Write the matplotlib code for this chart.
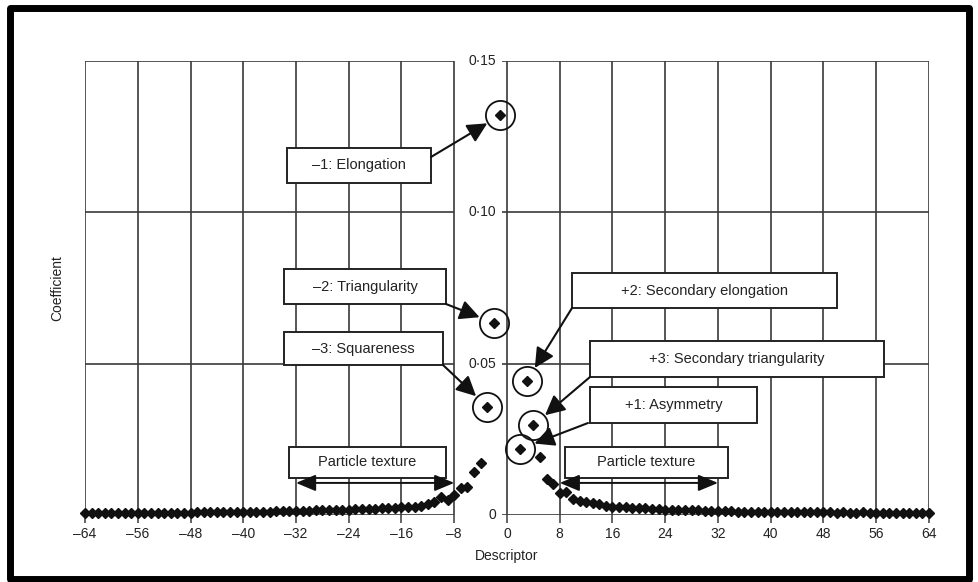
import matplotlib
matplotlib.use("Agg")
import matplotlib.pyplot as plt
from matplotlib.patches import Rectangle

plt.rcParams['font.family'] = ['Liberation Sans', 'DejaVu Sans']

# ---------------- data ----------------
left_desc = list(range(-64, 0))
left_coef = [
    0.0006, 0.0006, 0.0006, 0.0006, 0.0007, 0.0006, 0.0007, 0.0007,   # -64..-57
    0.0007, 0.0007, 0.0007, 0.0008, 0.0007, 0.0008, 0.0008, 0.0008,   # -56..-49
    0.0008, 0.0009, 0.0009, 0.0009, 0.0009, 0.0010, 0.0009, 0.0010,   # -48..-41
    0.0010, 0.0010, 0.0011, 0.0011, 0.0011, 0.0012, 0.0012, 0.0013,   # -40..-33
    0.0013, 0.0014, 0.0014, 0.0015, 0.0015, 0.0016, 0.0017, 0.0017,   # -32..-25
    0.0018, 0.0019, 0.0019, 0.0020, 0.0021, 0.0022, 0.0023, 0.0024,   # -24..-17
    0.0025, 0.0026, 0.0028, 0.0030, 0.0036, 0.0044, 0.0058, 0.0050,   # -16..-9
    0.0066, 0.0088, 0.0092, 0.0143, 0.0173, 0.0358, 0.0635, 0.1320,   # -8..-1
]
right_desc = list(range(2, 65))
right_coef = [
    0.0218, 0.0443, 0.0297, 0.0193, 0.0119, 0.0102, 0.0072,           # 2..8
    0.0077, 0.0052, 0.0046, 0.0042, 0.0040, 0.0036, 0.0031, 0.0028,   # 9..16
    0.0027, 0.0025, 0.0024, 0.0023, 0.0022, 0.0021, 0.0019, 0.0018,   # 17..24
    0.0017, 0.0017, 0.0016, 0.0015, 0.0015, 0.0014, 0.0013, 0.0013,   # 25..32
    0.0012, 0.0012, 0.0011, 0.0011, 0.0011, 0.0010, 0.0010, 0.0010,   # 33..40
    0.0010, 0.0009, 0.0009, 0.0010, 0.0009, 0.0009, 0.0010, 0.0009,   # 41..48
    0.0009, 0.0008, 0.0009, 0.0008, 0.0008, 0.0009, 0.0008, 0.0008,   # 49..56
    0.0008, 0.0008, 0.0008, 0.0008, 0.0008, 0.0008, 0.0008, 0.0008,   # 57..64
]
descriptor = left_desc + right_desc
coefficient = left_coef + right_coef

x_ticks = list(range(-64, 65, 8))
x_tick_labels = [("\u2013" + str(-v)) if v < 0 else str(v) for v in x_ticks]
y_ticks = [0.0, 0.05, 0.10, 0.15]
y_tick_labels = ["0", "0\u00b705", "0\u00b710", "0\u00b715"]

# circled (named) descriptors: label, position in descriptor list
named = [
    ("\u20131: Elongation", -1),
    ("\u20132: Triangularity", -2),
    ("\u20133: Squareness", -3),
    ("+2: Secondary elongation", 3),
    ("+3: Secondary triangularity", 4),
    ("+1: Asymmetry", 2),
]
texture_ranges = [(-32, -8), (8, 32)]
texture_label = "Particle texture"

# ---------------- layout ----------------
W, H = 979, 582
fig = plt.figure(figsize=(W / 100, H / 100), dpi=100)
AX_L, AX_R, AX_T, AX_B = 85, 929, 61, 515
ax = fig.add_axes([AX_L / W, 1 - AX_B / H, (AX_R - AX_L) / W, (AX_B - AX_T) / H])
ax.set_xlim(-64, 64)
ax.set_ylim(0, 0.15)

def af(px, py):
    """pixel position -> axes fraction"""
    return ((px - AX_L) / (AX_R - AX_L), (AX_B - py) / (AX_B - AX_T))

gc = '#3a3a3a'
glw = 1.2

for s in ax.spines.values():
    s.set_visible(False)

# vertical grid lines
ax.vlines(x_ticks, 0, 0.15, colors=gc, lw=glw, zorder=1)
# horizontal lines with a gap for the value labels
gap_l, gap_r = -8, -0.8
for yv in y_ticks:
    ax.hlines(yv, -64, gap_l, colors=gc, lw=glw, zorder=1)
    ax.hlines(yv, gap_r, 64, colors=gc, lw=glw, zorder=1)

for yv, lab in zip(y_ticks, y_tick_labels):
    ax.text(-1.6, yv, lab, ha='right', va='center', fontsize=10, color='#222222')

ax.set_xticks(x_ticks)
ax.set_xticklabels(x_tick_labels, fontsize=10, color='#222222')
ax.tick_params(axis='x', direction='out', length=6, width=1.1, color=gc, pad=3)
ax.set_yticks([])

ax.set_xlabel("Descriptor", fontsize=10, color='#222222')
ax.xaxis.set_label_coords(0.5, -0.075)
ax.set_ylabel("Coefficient", fontsize=10, color='#222222')
ax.yaxis.set_label_coords(-0.024, 0.5)

# data points
ax.plot(descriptor, coefficient, linestyle='none', marker='D', markersize=4.6,
        color='#111111', clip_on=False, zorder=4)

# circles around named descriptors
lookup = dict(zip(descriptor, coefficient))
for _, d in named:
    ax.plot([d], [lookup[d]], linestyle='none', marker='o', markersize=21,
            markerfacecolor='none', markeredgecolor='#111111', markeredgewidth=1.3,
            zorder=5)

# annotation boxes (pixel boxes: x0, x1, y0, y1) and arrow start points
boxes = {
    "\u20131: Elongation": ((287, 431, 148, 183), (431, 157)),
    "\u20132: Triangularity": ((284, 446, 269, 304), (446, 304)),
    "\u20133: Squareness": ((284, 443, 332, 365), (443, 365)),
    "+2: Secondary elongation": ((572, 837, 273, 308), (572, 308)),
    "+3: Secondary triangularity": ((590, 884, 341, 377), (590, 377)),
    "+1: Asymmetry": ((590, 757, 387, 423), (588, 423)),
}

def draw_box(x0, x1, y0, y1, text):
    ax0, ay1 = af(x0, y0)
    ax1, ay0 = af(x1, y1)
    ax.add_patch(Rectangle((ax0, ay0), ax1 - ax0, ay1 - ay0, transform=ax.transAxes,
                           facecolor='white', edgecolor='#222222', lw=1.4, zorder=6,
                           clip_on=False))
    ax.text((ax0 + ax1) / 2, (ay0 + ay1) / 2, text, transform=ax.transAxes,
            ha='center', va='center', fontsize=10.5, color='#222222', zorder=7)

for label, d in named:
    (x0, x1, y0, y1), start = boxes[label]
    draw_box(x0, x1, y0, y1, label)
    ax.annotate('', xy=(d, lookup[d]), xycoords='data',
                xytext=af(*start), textcoords='axes fraction',
                arrowprops=dict(arrowstyle='-|>,head_length=0.6,head_width=0.3',
                                color='#111111', lw=1.5,
                                mutation_scale=20, shrinkA=0, shrinkB=11),
                zorder=6)

# particle texture boxes and double arrows
tex_boxes = [(289, 446, 447, 478), (565, 728, 447, 478)]
arrow_y = 0.0106
for (a, b), bx in zip(texture_ranges, tex_boxes):
    draw_box(*bx, texture_label)
    ax.annotate('', xy=(b, arrow_y), xytext=(a, arrow_y),
                arrowprops=dict(arrowstyle='<|-|>,head_length=0.6,head_width=0.25',
                                color='#111111', lw=1.4,
                                mutation_scale=20, shrinkA=0, shrinkB=0),
                zorder=6)

# outer rounded frame
fig.patches.append(Rectangle((9.5 / W, 1 - 578.5 / H), (969.5 - 9.5) / W,
                             (578.5 - 7.5) / H, transform=fig.transFigure,
                             fill=False, edgecolor='black', lw=5, joinstyle='round'))

fig.savefig("out.png", dpi=100, facecolor='white')
